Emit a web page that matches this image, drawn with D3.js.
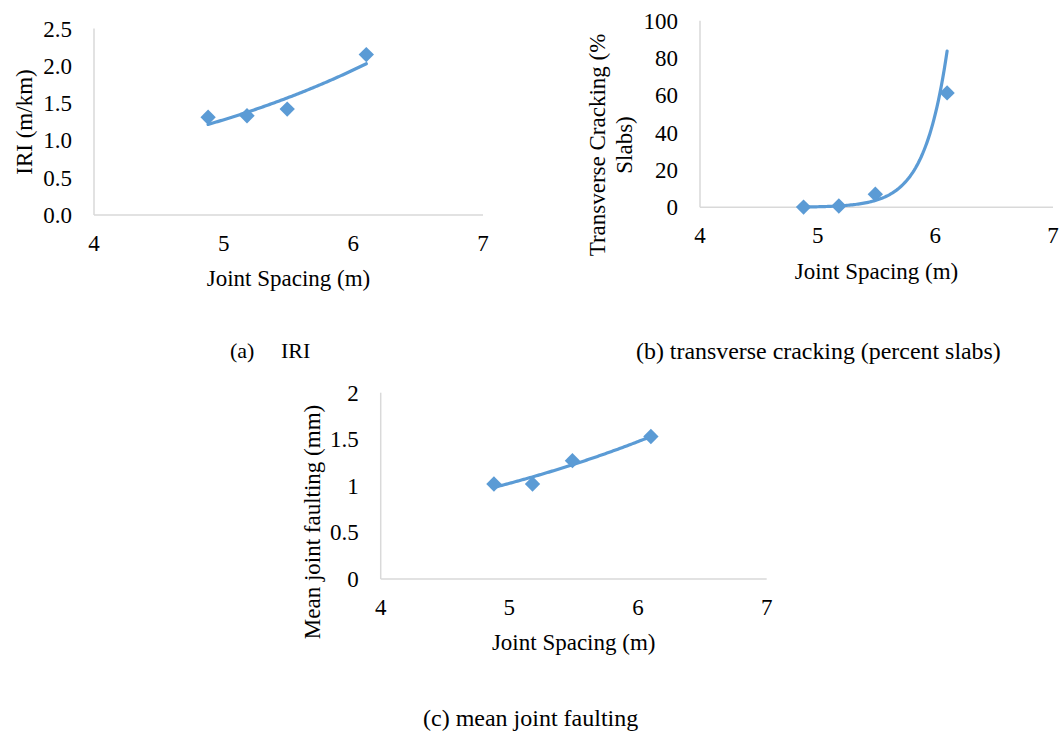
<!DOCTYPE html>
<html>
<head>
<meta charset="utf-8">
<script src="https://cdn.jsdelivr.net/npm/d3@7"></script>
<style>
  html, body { margin: 0; padding: 0; background: #fff; }
  svg { display: block; }
  text { font-family: "Liberation Serif", "Times New Roman", serif; fill: #000; }
</style>
</head>
<body>
<svg id="fig" width="1059" height="731"></svg>
<script>
// Joint spacing (m) of the four sections: 16, 17, 18 and 20 ft
const jointSpacing = [4.88, 5.18, 5.49, 6.10];

// Predicted distresses per joint spacing
const iriValues = [1.31, 1.33, 1.42, 2.15];          // m/km
const crackingValues = [0.12, 0.7, 7.0, 61.3];       // % slabs cracked
const faultingValues = [1.02, 1.02, 1.27, 1.53];     // mm

// Axis ticks
const xTicks = [4, 5, 6, 7];
const iriTicks = [0, 0.5, 1.0, 1.5, 2.0, 2.5];
const crackingTicks = [0, 20, 40, 60, 80, 100];
const faultingTicks = [0, 0.5, 1, 1.5, 2];

// Panel captions
const captions = ["(a)", "IRI", "(b) transverse cracking (percent slabs)", "(c) mean joint faulting"];

const BLUE = "#5b9bd5";
const AXIS = "#d9d9d9";
const FS = 23;

const svg = d3.select("#fig");

// Least-squares exponential fit y = a·e^(b·x), as used for the trendlines
function expFit(xs, ys) {
  const n = xs.length;
  const ly = ys.map(Math.log);
  const mx = d3.mean(xs), my = d3.mean(ly);
  let sxy = 0, sxx = 0;
  for (let i = 0; i < n; i++) {
    sxy += (xs[i] - mx) * (ly[i] - my);
    sxx += (xs[i] - mx) * (xs[i] - mx);
  }
  const b = sxy / sxx;
  const a = Math.exp(my - b * mx);
  return x => a * Math.exp(b * x);
}

function panel(cfg) {
  const g = svg.append("g");
  const x = d3.scaleLinear().domain([4, 7]).range([cfg.x0, cfg.x1]);
  const y = d3.scaleLinear().domain(cfg.yDomain).range([cfg.y0, cfg.y1]);

  // axis lines
  g.append("line").attr("x1", x(4)).attr("x2", x(7)).attr("y1", y(0)).attr("y2", y(0))
    .attr("stroke", AXIS).attr("stroke-width", 1.5);
  g.append("line").attr("x1", x(4)).attr("x2", x(4)).attr("y1", y(0)).attr("y2", y(cfg.yDomain[1]))
    .attr("stroke", AXIS).attr("stroke-width", 1.5);

  // x tick labels
  g.selectAll(".xt").data(xTicks).join("text")
    .attr("x", d => x(d)).attr("y", y(0) + 36)
    .attr("text-anchor", "middle").attr("font-size", FS)
    .text(d => d);

  // y tick labels
  g.selectAll(".yt").data(cfg.yTicks).join("text")
    .attr("x", x(4) - 22).attr("y", d => y(d)).attr("dy", "0.35em")
    .attr("text-anchor", "end").attr("font-size", FS)
    .text(cfg.fmt);

  // axis titles
  g.append("text").attr("x", (x(4) + x(7)) / 2 + cfg.xTitleDx).attr("y", y(0) + cfg.xTitleDy)
    .attr("text-anchor", "middle").attr("font-size", FS).text("Joint Spacing (m)");

  cfg.yTitle.forEach((line, i) => {
    g.append("text")
      .attr("transform", `translate(${cfg.yTitleX[i]},${cfg.yTitleY}) rotate(-90)`)
      .attr("text-anchor", "middle").attr("dy", "0.35em").attr("font-size", FS)
      .text(line);
  });

  // exponential trendline over the data range
  const f = expFit(jointSpacing, cfg.values);
  const x0 = d3.min(jointSpacing), x1 = d3.max(jointSpacing);
  const pts = d3.range(0, 101).map(i => x0 + (x1 - x0) * i / 100);
  g.append("path")
    .attr("d", d3.line().x(d => x(d)).y(d => y(f(d))).curve(d3.curveLinear)(pts))
    .attr("fill", "none").attr("stroke", BLUE).attr("stroke-width", 3.2)
    .attr("stroke-linecap", "round");

  // diamond markers
  const sym = d3.symbol().type(d3.symbolDiamond2).size(150);
  g.selectAll(".pt").data(jointSpacing.map((d, i) => [d, cfg.values[i]])).join("path")
    .attr("d", sym)
    .attr("transform", d => `translate(${x(d[0])},${y(d[1])})`)
    .attr("fill", BLUE);
}

panel({
  x0: 94, x1: 483, y0: 215, y1: 28.5, yDomain: [0, 2.5],
  yTicks: iriTicks, fmt: d3.format(".1f"), values: iriValues,
  xTitleDx: 0, xTitleDy: 71,
  yTitle: ["IRI (m/km)"], yTitleX: [24], yTitleY: 122
});

panel({
  x0: 700, x1: 1053, y0: 207.3, y1: 20.7, yDomain: [0, 100],
  yTicks: crackingTicks, fmt: d => d, values: crackingValues,
  xTitleDx: 0, xTitleDy: 72,
  yTitle: ["Transverse Cracking (%", "Slabs)"], yTitleX: [597, 624], yTitleY: 145
});

panel({
  x0: 380.7, x1: 766.7, y0: 579, y1: 392.7, yDomain: [0, 2],
  yTicks: faultingTicks, fmt: d => d, values: faultingValues,
  xTitleDx: 0, xTitleDy: 71,
  yTitle: ["Mean joint faulting (mm)"], yTitleX: [312], yTitleY: 522
});

// captions
svg.append("text").attr("x", 230).attr("y", 358).attr("font-size", 22).text(captions[0]);
svg.append("text").attr("x", 281).attr("y", 358).attr("font-size", 22).text(captions[1]);
svg.append("text").attr("x", 636).attr("y", 359).attr("font-size", 23.9).text(captions[2]);
svg.append("text").attr("x", 423).attr("y", 726).attr("font-size", 24).text(captions[3]);
</script>
</body>
</html>
